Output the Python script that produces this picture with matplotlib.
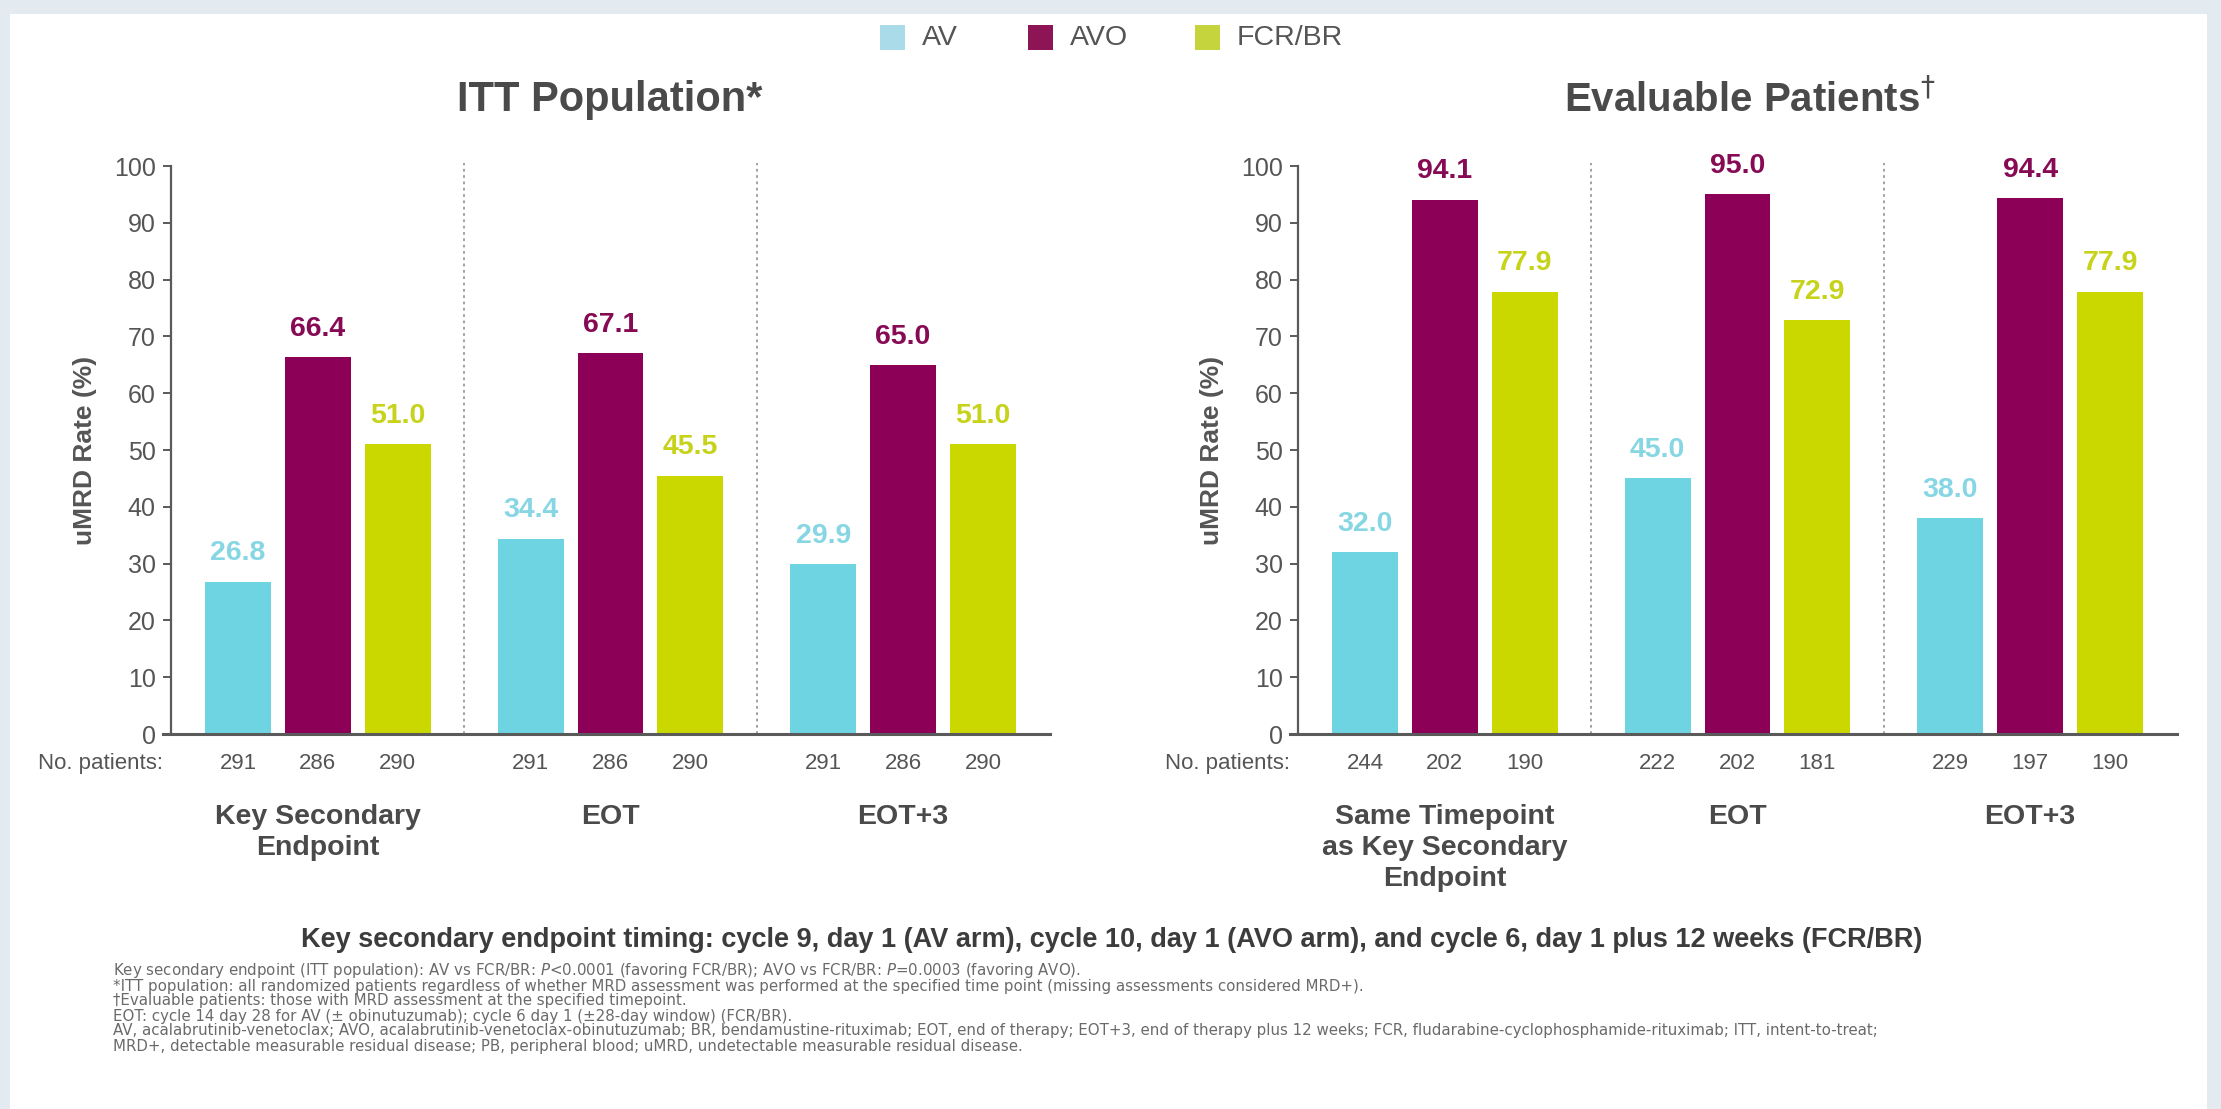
import numpy as np
import matplotlib
matplotlib.use("Agg")
import matplotlib.pyplot as plt
from matplotlib.patches import Rectangle

plt.rcParams["font.family"] = ["Liberation Sans", "DejaVu Sans"]

# uMRD rates (%) per timepoint
timepoints_itt = ["Key Secondary\nEndpoint", "EOT", "EOT+3"]
timepoints_eval = ["Same Timepoint\nas Key Secondary\nEndpoint", "EOT", "EOT+3"]
arms = ["AV", "AVO", "FCR/BR"]

itt_av = [26.8, 34.4, 29.9]
itt_avo = [66.4, 67.1, 65.0]
itt_fcr = [51.0, 45.5, 51.0]

eval_av = [32.0, 45.0, 38.0]
eval_avo = [94.1, 95.0, 94.4]
eval_fcr = [77.9, 72.9, 77.9]

# number of patients per bar (AV, AVO, FCR/BR) per timepoint
itt_n = [[291, 286, 290], [291, 286, 290], [291, 286, 290]]
eval_n = [[244, 202, 190], [222, 202, 181], [229, 197, 190]]

footnotes = [
    "Key secondary endpoint (ITT population): AV vs FCR/BR: $P$<0.0001 (favoring FCR/BR); AVO vs FCR/BR: $P$=0.0003 (favoring AVO).",
    "*ITT population: all randomized patients regardless of whether MRD assessment was performed at the specified time point (missing assessments considered MRD+).",
    "\u2020Evaluable patients: those with MRD assessment at the specified timepoint.",
    "EOT: cycle 14 day 28 for AV (\u00b1 obinutuzumab); cycle 6 day 1 (\u00b128-day window) (FCR/BR).",
    "AV, acalabrutinib-venetoclax; AVO, acalabrutinib-venetoclax-obinutuzumab; BR, bendamustine-rituximab; EOT, end of therapy; EOT+3, end of therapy plus 12 weeks; FCR, fludarabine-cyclophosphamide-rituximab; ITT, intent-to-treat;",
    "MRD+, detectable measurable residual disease; PB, peripheral blood; uMRD, undetectable measurable residual disease.",
]

bar_colors = ["#6fd4e1", "#8c0058", "#cbd800"]
label_colors = ["#86d6e3", "#870a55", "#c6d31a"]
legend_colors = ["#aadbe8", "#8e1555", "#c5d43c"]
text_gray = "#555555"
title_gray = "#4a4a4a"

W, H = 2221, 1109
fig = plt.figure(figsize=(W / 100, H / 100), dpi=100)
fig.patch.set_facecolor("#e3eaf0")
fig.add_artist(Rectangle((10 / W, 0), 2197 / W, (H - 14) / H, transform=fig.transFigure,
                         facecolor="white", edgecolor="none", zorder=0))


def px(x, y):
    return x / W, 1 - y / H


def draw_panel(left_px, cats, av, avo, fcr, counts):
    ax = fig.add_axes([left_px / W, 1 - 734 / H, 879 / W, 568 / H])
    ax.set_facecolor("none")
    x = np.arange(len(cats))
    pitch, width = 0.273, 0.225
    for k, (vals, col, lcol) in enumerate(zip([av, avo, fcr], bar_colors, label_colors)):
        xs = x + (k - 1) * pitch
        ax.bar(xs, vals, width=width, color=col, zorder=2)
        for xi, v in zip(xs, vals):
            ax.annotate(f"{v:.1f}", (xi, v), xytext=(0, 11), textcoords="offset points",
                        ha="center", va="bottom", fontsize=20.5, fontweight="bold",
                        color=lcol, annotation_clip=False)
        for xi, n in zip(xs, [c[k] for c in counts]):
            ax.text(xi, -5.2, str(n), ha="center", va="center", fontsize=16,
                    color=text_gray, clip_on=False)
    for sep in [0.5, 1.5]:
        ax.plot([sep, sep], [0, 100.5], color="#9a9a9a", lw=1.3, ls=(0, (1.5, 2)),
                zorder=1, clip_on=False)
    ax.text(-0.53, -5.2, "No. patients:", ha="right", va="center", fontsize=16,
            color=text_gray, clip_on=False)
    for xi, c in zip(x, cats):
        ax.text(xi, -12.3, c, ha="center", va="top", fontsize=20.5, fontweight="bold",
                color=title_gray, linespacing=1.25, clip_on=False)

    ax.set_xlim(-0.502, 2.502)
    ax.set_ylim(0, 100)
    ax.set_yticks(np.arange(0, 101, 10))
    ax.set_xticks([])
    for s in ["top", "right"]:
        ax.spines[s].set_visible(False)
    ax.spines["left"].set_color("#5a5a5a")
    ax.spines["bottom"].set_color("#5a5a5a")
    ax.spines["left"].set_linewidth(1.6)
    ax.spines["bottom"].set_linewidth(2.2)
    ax.spines["bottom"].set_bounds(-0.53, 2.502)
    ax.tick_params(axis="y", length=6, width=1.4, color="#5a5a5a", labelsize=18,
                   labelcolor=text_gray, pad=5)
    ax.set_ylabel("uMRD Rate (%)", fontsize=19, fontweight="bold", color=text_gray, labelpad=12)
    return ax


draw_panel(171, timepoints_itt, itt_av, itt_avo, itt_fcr, itt_n)
draw_panel(1298, timepoints_eval, eval_av, eval_avo, eval_fcr, eval_n)

# panel titles
fig.text(*px(610, 100), "ITT Population*", ha="center", va="center", fontsize=30,
         fontweight="bold", color=title_gray)
fig.text(*px(1750, 100), "Evaluable Patients$^{\u2020}$", ha="center", va="center", fontsize=29,
         fontweight="bold", color=title_gray)

# legend
for lx, name, col in zip([880, 1028, 1195], arms, legend_colors):
    fig.add_artist(Rectangle(px(lx, 50), 25 / W, 25 / H, transform=fig.transFigure,
                             facecolor=col, edgecolor="none"))
    fig.text(*px(lx + 42, 38), name, ha="left", va="center", fontsize=20.5, color=text_gray)

fig.text(*px(1112, 940),
         "Key secondary endpoint timing: cycle 9, day 1 (AV arm), cycle 10, day 1 (AVO arm), "
         "and cycle 6, day 1 plus 12 weeks (FCR/BR)",
         ha="center", va="center", fontsize=19.5, fontweight="bold", color="#3c3c3c")

for i, line in enumerate(footnotes):
    fig.text(*px(113, 971 + i * 15), line, ha="left", va="center", fontsize=10.8,
             family="DejaVu Sans", color="#6a6a6a")

fig.savefig("out.png", dpi=100, facecolor=fig.get_facecolor())
